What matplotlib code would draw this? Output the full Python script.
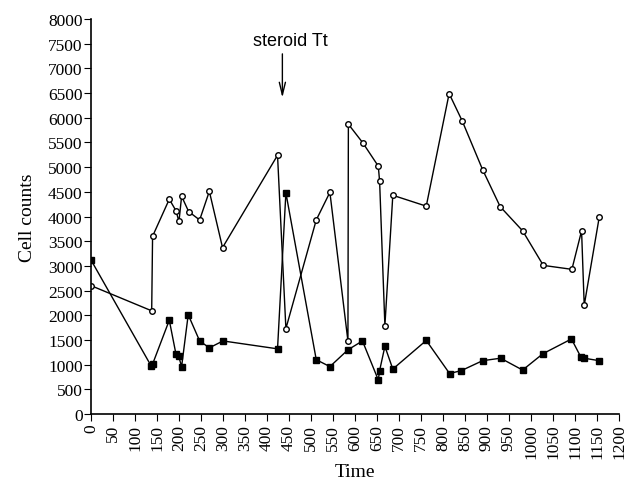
import matplotlib
matplotlib.use("Agg")
import matplotlib.pyplot as plt

# open circles series
t_open = [0, 138, 140, 178, 193, 200, 206, 222, 247, 269, 299, 424, 443,
          512, 543, 584, 585, 618, 653, 656, 668, 686, 762, 814, 844, 890,
          930, 981, 1028, 1093, 1115, 1121, 1155]
v_open = [2600, 2090, 3600, 4350, 4120, 3900, 4410, 4100, 3930, 4510, 3370,
          5240, 1730, 3930, 4490, 1480, 5870, 5490, 5020, 4710, 1790, 4430,
          4210, 6490, 5930, 4950, 4200, 3710, 3010, 2930, 3710, 2200, 3980]

# filled squares series
t_fill = [0, 137, 140, 178, 193, 199, 206, 221, 247, 269, 300, 424, 443,
          512, 543, 584, 617, 653, 656, 668, 686, 762, 815, 842, 890, 931,
          981, 1027, 1092, 1113, 1121, 1155]
v_fill = [3120, 970, 1010, 1900, 1220, 1180, 960, 2010, 1480, 1340, 1480,
          1320, 4480, 1100, 960, 1300, 1480, 690, 880, 1370, 910, 1490,
          820, 880, 1080, 1130, 890, 1220, 1520, 1160, 1130, 1080]

x_ticks = list(range(0, 1201, 50))
y_ticks = list(range(0, 8001, 500))

plt.rcParams["font.family"] = "Liberation Serif"

fig = plt.figure(figsize=(6.3, 4.81), dpi=100)
ax = fig.add_axes([0.1444, 0.1372, 0.8381, 0.8212])

ax.plot(t_open, v_open, color="black", lw=1, marker="o", ms=4,
        mfc="white", mec="black", mew=1)
ax.plot(t_fill, v_fill, color="black", lw=1, marker="s", ms=5,
        mfc="black", mec="black")

ax.set_xlim(0, 1200)
ax.set_ylim(0, 8000)
ax.set_xticks(x_ticks)
ax.set_yticks(y_ticks)
ax.tick_params(axis="x", labelrotation=90, labelsize=12.5, length=5,
               direction="out", pad=2)
ax.tick_params(axis="y", labelsize=12.5, length=5, direction="out", pad=1)
for s in ["top", "right"]:
    ax.spines[s].set_visible(False)
ax.spines["left"].set_linewidth(1.2)
ax.spines["bottom"].set_linewidth(1.2)

ax.set_xlabel("Time", fontsize=14, labelpad=3.5)
ax.set_ylabel("Cell counts", fontsize=14, labelpad=9)

ax.annotate("", xy=(435, 6350), xytext=(435, 7350),
            arrowprops=dict(arrowstyle="->,head_length=0.9,head_width=0.22",
                            color="black", lw=1))
ax.text(453, 7570, "steroid Tt", family="Liberation Sans", fontsize=13,
        ha="center", va="center")

fig.savefig("out.png", dpi=100)
